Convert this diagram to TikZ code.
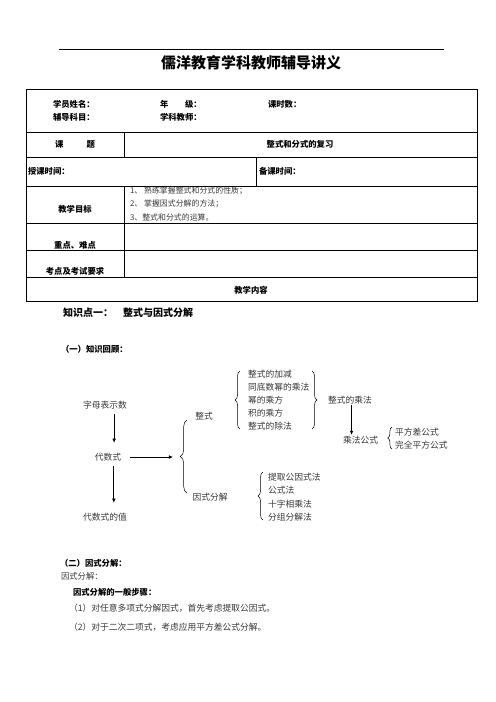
\documentclass[tikz,border=0pt]{standalone}
\usepackage{fontspec}
\usepackage{xcolor}
\usetikzlibrary{arrows.meta,decorations.pathreplacing}
\newfontfamily\cjk{Noto Sans CJK SC}
\colorlet{bordercolor}{white}
\colorlet{textcolor}{black!78}

\begin{document}
\begin{tikzpicture}[x=1.2pt, y=-1.2pt,
        txt/.style={font=\cjk\fontsize{10.5}{12}\selectfont, text=textcolor, inner sep=1pt},
        lbl/.style={font=\cjk\bfseries\fontsize{10}{12}\selectfont, inner sep=1pt},
        head/.style={font=\cjk\bfseries\fontsize{12}{14}\selectfont, inner sep=1pt},
        arr/.style={-{Latex[length=5pt,width=4.5pt]}, line width=0.9pt},
        brc/.style={decorate, decoration={brace, amplitude=#1}, line width=0.6pt},
        grid/.style={line width=0.6pt}]
        \useasboundingbox[fill=bordercolor] (0, 0) rectangle (496, 702); % A4 page

        % Title
        \draw[line width=0.8pt] (59, 49) -- (444, 49);
        \node[font=\cjk\bfseries\fontsize{18}{20}\selectfont, inner sep=1pt] (title) at (251, 63) {儒洋教育学科教师辅导讲义};

        % Table frame {{{
        \draw[grid] (26, 89) rectangle (477, 301);
        \draw[grid]
                (26, 132) -- (477, 132) (26, 157) -- (477, 157) %
                (26, 186) -- (477, 186) (26, 223) -- (477, 223) %
                (26, 250) -- (477, 250) (26, 277) -- (477, 277) %
                (124, 132) -- (124, 157) (256, 157) -- (256, 186) %
                (124, 186) -- (124, 277) %
                ;
        % }}}

        % Table texts {{{
        \node[lbl, anchor=west] (name) at (52, 104) {学员姓名：};
        \node[lbl, anchor=west] (subject) at (52, 117) {辅导科目：};
        \node[lbl, anchor=west] (grade) at (159, 104) {年\hspace{2em}级：};
        \node[lbl, anchor=west] (teacher) at (159, 117) {学科教师：};
        \node[lbl, anchor=west] (hours) at (267, 104) {课时数：};
        \node[lbl] (topic) at (75, 144) {课\hspace{2.8em}题};
        \node[lbl] (topicval) at (300, 144) {整式和分式的复习};
        \node[lbl, anchor=west] (ttime) at (27, 171) {授课时间：};
        \node[lbl, anchor=west] (ptime) at (258, 171) {备课时间：};
        \node[lbl] (goal) at (75, 209) {教学目标};
        \node[txt, anchor=west, font=\cjk\fontsize{9.5}{11}\selectfont] (goal1) at (129, 191) {1、 熟练掌握整式和分式的性质；};
        \node[txt, anchor=west, font=\cjk\fontsize{9.5}{11}\selectfont] (goal2) at (129, 204) {2、 掌握因式分解的方法；};
        \node[txt, anchor=west, font=\cjk\fontsize{9.5}{11}\selectfont] (goal3) at (129, 217) {3、整式和分式的运算。};
        \node[lbl] (key) at (75, 245) {重点、难点};
        \node[lbl] (exam) at (75, 271) {考点及考试要求};
        \node[lbl] (content) at (251, 290) {教学内容};
        % }}}

        \node[head, anchor=west] (kp) at (62, 313) {知识点一：};
        \node[head, anchor=west] (kptitle) at (122, 313) {整式与因式分解};
        \node[lbl, anchor=west] (review) at (60, 349) {（一）知识回顾：};

        % Review diagram {{{
        \node[txt] (zimu) at (105, 405) {字母表示数};
        \node[txt] (daishu) at (108, 457) {代数式};
        \node[txt] (zhi) at (105, 517) {代数式的值};
        \coordinate (bigtip) at (178, 457);
        \node[txt] (zs) at (204, 416) {整式};
        \node[txt] (yf) at (210, 497) {因式分解};

        \draw[arr, shorten <=5pt, shorten >=11pt] ([xshift=11pt]zimu.south) -- ([xshift=11pt]zimu.south |- daishu.north);
        \draw[arr, shorten <=5pt, shorten >=11pt] ([xshift=7pt]daishu.south) -- ([xshift=7pt]daishu.south |- zhi.north);
        \draw[arr, shorten <=10pt, shorten >=6pt] (daishu.east) -- (bigtip);
        \draw[brc=8pt] (187, 493) -- (187, 420);

        \node[txt, anchor=west] (l1) at (247, 374) {整式的加减};
        \node[txt, anchor=west] (l2) at (247, 387) {同底数幂的乘法};
        \node[txt, anchor=west] (l3) at (247, 400) {幂的乘方};
        \node[txt, anchor=west] (l4) at (247, 413) {积的乘方};
        \node[txt, anchor=west] (l5) at (247, 426) {整式的除法};
        \draw[brc=6pt] (240, 429) -- (240, 371);
        \draw[brc=6pt] (312, 371) -- (312, 429);

        \node[txt, anchor=west] (cf) at (327, 400) {整式的乘法};
        \node[txt, anchor=west] (cfgs) at (342, 440) {乘法公式};
        \draw[arr] ([xshift=2pt]cf.south) -- ([xshift=2pt]cf.south |- cfgs.north);
        \draw[brc=5pt] (392, 449) -- (392, 427);
        \node[txt, anchor=west] (pf) at (394, 432) {平方差公式};
        \node[txt, anchor=west] (wq) at (394, 445) {完全平方公式};

        \node[txt, anchor=west] (f1) at (267, 477) {提取公因式法};
        \node[txt, anchor=west] (f2) at (267, 490) {公式法};
        \node[txt, anchor=west] (f3) at (267, 504) {十字相乘法};
        \node[txt, anchor=west] (f4) at (267, 517) {分组分解法};
        \draw[brc=6pt] (263, 520) -- (263, 472);
        % }}}

        % Factoring {{{
        \node[lbl, anchor=west] (fac) at (59, 563) {（二）因式分解：};
        \node[txt, anchor=west, font=\cjk\fontsize{10}{12}\selectfont] (facdef) at (60, 576) {因式分解：};
        \node[lbl, anchor=west] (steps) at (72, 592) {因式分解的一般步骤：};
        \node[txt, anchor=west] (step1) at (68, 608) {（1）对任意多项式分解因式，首先考虑提取公因式。};
        \node[txt, anchor=west] (step2) at (68, 627) {（2）对于二次二项式，考虑应用平方差公式分解。};
        % }}}
\end{tikzpicture}
\end{document}
